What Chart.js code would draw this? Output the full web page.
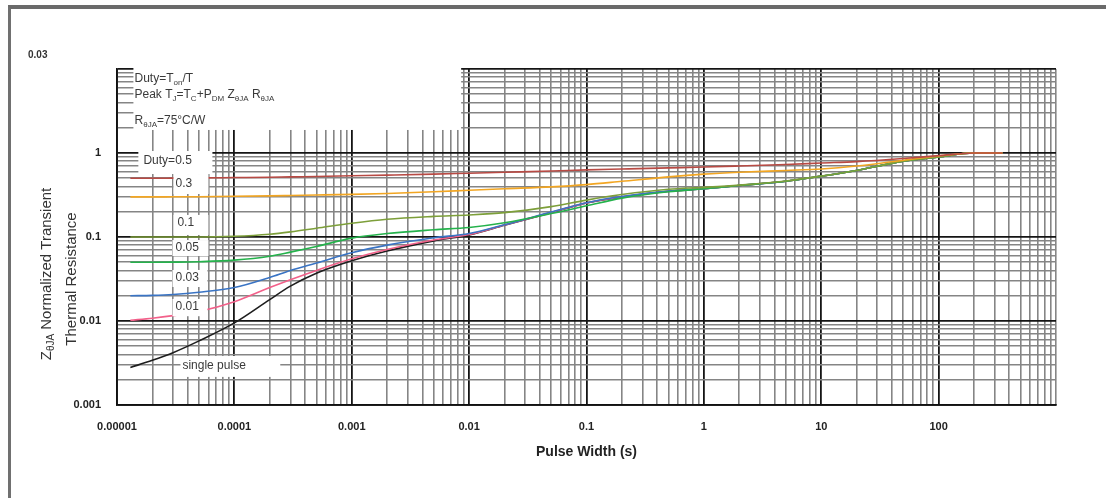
<!DOCTYPE html>
<html>
<head>
<meta charset="utf-8">
<script src="https://cdn.jsdelivr.net/npm/chart.js@4/dist/chart.umd.min.js"></script>
<style>
  body { margin: 0; background: #fff; overflow: hidden; }
  #frame {
    position: absolute; left: 8px; top: 5px; width: 1100px; height: 495px;
    border-left: 3px solid #707070; border-top: 4px solid #6a6a6a;
  }
  canvas { position: absolute; left: 0; top: 0; }
</style>
</head>
<body>
<div id="frame"></div>
<canvas id="zthChart" width="1106" height="498"></canvas>
<script>
const pulseWidth = [1.3e-5, 2e-5, 3e-5, 5e-5, 1e-4, 2e-4, 3e-4, 5e-4, 1e-3, 2e-3, 5e-3, 1e-2, 2e-2, 5e-2, 0.1, 0.2, 0.5, 1, 2, 5, 10, 20, 50, 100, 200, 350];

const duty05 = [0.5, 0.5, 0.502, 0.505, 0.51, 0.515, 0.52, 0.525, 0.535, 0.545, 0.56, 0.575, 0.59, 0.61, 0.63, 0.645, 0.665, 0.68, 0.7, 0.73, 0.76, 0.79, 0.86, 0.93, 1.0, 1.0];
const duty03 = [0.3, 0.3, 0.301, 0.302, 0.305, 0.309, 0.312, 0.316, 0.322, 0.33, 0.345, 0.36, 0.375, 0.395, 0.42, 0.46, 0.52, 0.56, 0.59, 0.62, 0.645, 0.7, 0.82, 0.92, 1.0, 1.0];
const duty01 = [0.1, 0.1, 0.1, 0.1, 0.102, 0.108, 0.115, 0.127, 0.146, 0.163, 0.176, 0.183, 0.195, 0.23, 0.275, 0.32, 0.37, 0.39, 0.415, 0.465, 0.53, 0.62, 0.8, 0.9, 1.0, 1.0];
const duty005 = [0.05, 0.05, 0.0502, 0.0508, 0.053, 0.059, 0.066, 0.077, 0.097, 0.11, 0.122, 0.13, 0.148, 0.19, 0.235, 0.29, 0.345, 0.375, 0.41, 0.46, 0.53, 0.62, 0.8, 0.9, 1.0, 1.0];
const duty003 = [0.02, 0.0202, 0.0207, 0.022, 0.025, 0.033, 0.04, 0.049, 0.065, 0.08, 0.098, 0.11, 0.14, 0.198, 0.256, 0.303, 0.352, 0.377, 0.41, 0.46, 0.53, 0.62, 0.8, 0.9, 1.0, 1.0];
const duty001 = [0.0102, 0.0108, 0.0116, 0.013, 0.017, 0.025, 0.031, 0.04, 0.055, 0.071, 0.092, 0.107, 0.139, 0.196, 0.255, 0.301, 0.351, 0.376, 0.41, 0.46, 0.53, 0.62, 0.8, 0.9, 1.0, 1.0];
const singlePulse = [0.0028, 0.0034, 0.0042, 0.0058, 0.0095, 0.018, 0.026, 0.037, 0.052, 0.068, 0.09, 0.106, 0.138, 0.195, 0.254, 0.3, 0.35, 0.375, 0.41, 0.46, 0.53, 0.62, 0.8, 0.9, 1.0, 1.0];

const seriesNames = ["Duty=0.5", "0.3", "0.1", "0.05", "0.03", "0.01", "single pulse"];
const seriesValues = [duty05, duty03, duty01, duty005, duty003, duty001, singlePulse];
const seriesColors = ["#b84a44", "#f2a623", "#7d9f3a", "#25b24c", "#3a74c4", "#f2608a", "#1e1e1e"];

// axis labels
const xTickValues = [1e-5, 1e-4, 1e-3, 1e-2, 0.1, 1, 10, 100];
const xTickLabels = ["0.00001", "0.0001", "0.001", "0.01", "0.1", "1", "10", "100"];
const yTickValues = [0.001, 0.01, 0.1, 1];
const yTickLabels = ["0.001", "0.01", "0.1", "1"];

const fontFamily = "\"Liberation Sans\", Arial, sans-serif";

// 1..9 in every decade, for the log grid
function logGrid(fromExp, toExp) {
  const out = [];
  for (let e = fromExp; e < toExp; e++) {
    for (let k = 1; k <= 9; k++) out.push(Number((k * Math.pow(10, e)).toPrecision(3)));
  }
  out.push(Math.pow(10, toExp));
  return out;
}

function isDecade(v) {
  const l = Math.log10(v);
  return Math.abs(l - Math.round(l)) < 1e-9;
}

function labelFor(values, labels, v) {
  const i = values.findIndex(tv => Math.abs(Math.log10(tv) - Math.log10(v)) < 1e-6);
  return i >= 0 ? labels[i] : "";
}

// white boxes behind the notes: [t from, t to, value top, value bottom]
const noteBoxes = [
  [1.38e-5, 8.55e-3, 11, 1.88],
  [1.52e-5, 6.5e-5, 1.056, 0.562],
  [3.03e-5, 6.01e-5, 0.562, 0.325],
  [3.03e-5, 6.01e-5, 0.183, 0.1057],
  [2.97e-5, 6.01e-5, 0.092, 0.0594],
  [2.97e-5, 5.89e-5, 0.0405, 0.0254],
  [2.97e-5, 5.89e-5, 0.0183, 0.0114],
  [3.47e-5, 2.46e-4, 0.00383, 0.00216]
];

// notes, anchored left-middle at (t, value); second item true = subscript
const notes = [
  { t: 1.41e-5, v: 7.6, parts: [["Duty=T"], ["on", true], ["/T"]] },
  { t: 1.41e-5, v: 4.9, parts: [["Peak T"], ["J", true], ["=T"], ["C", true], ["+P"], ["DM", true], [" Z"], ["θJA", true], [" R"], ["θJA", true]] },
  { t: 1.41e-5, v: 2.4, parts: [["R"], ["θJA", true], ["=75°C/W"]] },
  { t: 1.68e-5, v: 0.8, parts: [["Duty=0.5"]] },
  { t: 3.15e-5, v: 0.428, parts: [["0.3"]] },
  { t: 3.27e-5, v: 0.147, parts: [["0.1"]] },
  { t: 3.15e-5, v: 0.074, parts: [["0.05"]] },
  { t: 3.15e-5, v: 0.0325, parts: [["0.03"]] },
  { t: 3.15e-5, v: 0.0147, parts: [["0.01"]] },
  { t: 3.61e-5, v: 0.00291, parts: [["single pulse"]] }
];

function richWidth(ctx, parts, size) {
  let w = 0;
  parts.forEach(p => {
    ctx.font = (p[1] ? Math.round(size * 0.68) : size) + "px " + fontFamily;
    w += ctx.measureText(p[0]).width;
  });
  return w;
}

function drawRich(ctx, parts, x, y, size) {
  let cx = x;
  parts.forEach(p => {
    ctx.font = (p[1] ? Math.round(size * 0.68) : size) + "px " + fontFamily;
    ctx.fillText(p[0], cx, p[1] ? y + size * 0.3 : y);
    cx += ctx.measureText(p[0]).width;
  });
}

const notesPlugin = {
  id: "notes",
  afterDatasetsDraw(chart) {
    const { ctx, chartArea } = chart;
    const xs = chart.scales.x;
    const ys = chart.scales.y;
    ctx.save();
    ctx.fillStyle = "#fff";
    noteBoxes.forEach(b => {
      const x0 = xs.getPixelForValue(b[0]);
      const x1 = xs.getPixelForValue(b[1]);
      const y0 = ys.getPixelForValue(b[2]);
      const y1 = ys.getPixelForValue(b[3]);
      ctx.fillRect(x0, y0, x1 - x0, y1 - y0);
    });

    ctx.fillStyle = "#3a3a3a";
    ctx.textBaseline = "middle";
    ctx.textAlign = "left";
    notes.forEach(n => {
      drawRich(ctx, n.parts, xs.getPixelForValue(n.t), ys.getPixelForValue(n.v), 12);
    });

    // stray label above the y axis
    ctx.font = "bold 10px " + fontFamily;
    ctx.fillStyle = "#333";
    ctx.fillText("0.03", chartArea.left - 89, chartArea.top - 14);

    // y axis title, two lines, rotated
    const lines = [
      [["Z"], ["θJA", true], [" Normalized Transient"]],
      [["Thermal Resistance"]]
    ];
    const centers = [[chartArea.left - 70, 274], [chartArea.left - 45, 279]];
    ctx.fillStyle = "#333";
    lines.forEach((parts, i) => {
      const w = richWidth(ctx, parts, 15);
      ctx.save();
      ctx.translate(centers[i][0], centers[i][1]);
      ctx.rotate(-Math.PI / 2);
      drawRich(ctx, parts, -w / 2, 0, 15);
      ctx.restore();
    });
    ctx.restore();
  }
};

const ctx = document.getElementById("zthChart").getContext("2d");
new Chart(ctx, {
  type: "line",
  data: {
    datasets: seriesValues.map((vals, i) => ({
      label: seriesNames[i],
      data: pulseWidth.map((t, j) => ({ x: t, y: vals[j] })),
      borderColor: seriesColors[i],
      borderWidth: 1.6,
      pointRadius: 0,
      fill: false,
      cubicInterpolationMode: "monotone"
    }))
  },
  options: {
    responsive: false,
    animation: false,
    devicePixelRatio: 1,
    layout: { padding: { top: 69, right: 50, left: 0, bottom: 0 } },
    plugins: {
      legend: { display: false },
      tooltip: { enabled: false }
    },
    scales: {
      x: {
        type: "logarithmic",
        min: 1e-5,
        max: 1000,
        afterBuildTicks: scale => { scale.ticks = logGrid(-5, 3).map(v => ({ value: v })); },
        afterFit: scale => { scale.height = 93; },
        grid: {
          drawTicks: false,
          color: c => (isDecade(c.tick.value) && c.tick.value < 1000 ? "#151515" : "#858585"),
          lineWidth: c => (isDecade(c.tick.value) && c.tick.value < 1000 ? 1.8 : 1.6)
        },
        border: { color: "#111", width: 1.8 },
        ticks: {
          autoSkip: false,
          maxRotation: 0,
          padding: 15,
          color: "#222",
          font: { family: fontFamily, size: 11, weight: "bold" },
          callback: v => labelFor(xTickValues, xTickLabels, v)
        },
        title: {
          display: true,
          text: "Pulse Width (s)",
          color: "#222",
          font: { family: fontFamily, size: 14, weight: "bold" },
          padding: { top: 0, bottom: 37 }
        }
      },
      y: {
        type: "logarithmic",
        min: 0.001,
        max: 10,
        afterBuildTicks: scale => { scale.ticks = logGrid(-3, 1).map(v => ({ value: v })); },
        afterFit: scale => { scale.width = 117; },
        grid: {
          drawTicks: false,
          color: c => (isDecade(c.tick.value) ? "#151515" : "#858585"),
          lineWidth: c => (isDecade(c.tick.value) ? 1.8 : 1.6)
        },
        border: { color: "#111", width: 1.8 },
        ticks: {
          autoSkip: false,
          padding: 16,
          color: "#222",
          font: { family: fontFamily, size: 11, weight: "bold" },
          callback: v => labelFor(yTickValues, yTickLabels, v)
        }
      }
    }
  },
  plugins: [notesPlugin]
});
</script>
</body>
</html>
